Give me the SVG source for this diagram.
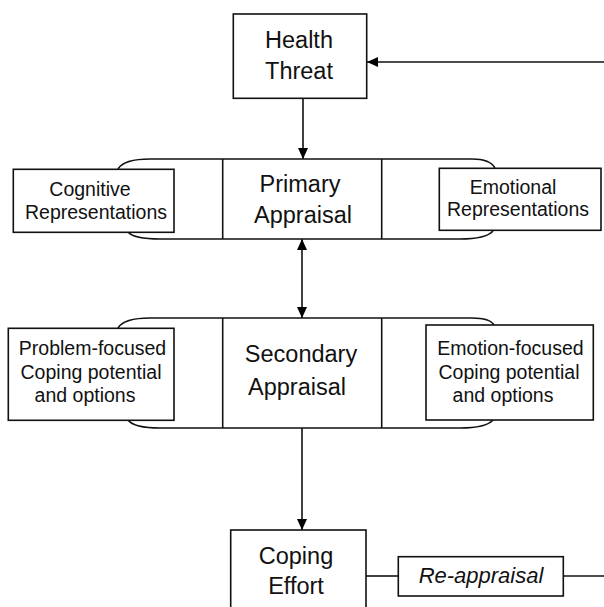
<svg xmlns="http://www.w3.org/2000/svg" width="604" height="607" viewBox="0 0 604 607">
  <defs>
    <marker id="arr" viewBox="0 0 11 10" refX="11" refY="5" markerWidth="11" markerHeight="10" markerUnits="userSpaceOnUse" orient="auto-start-reverse">
      <path d="M0,0 L11,5 L0,10 z" fill="#000"/>
    </marker>
    <style>
      .box{fill:#fff;stroke:#111;stroke-width:1.6}
      .ln{fill:none;stroke:#111;stroke-width:1.6}
      .t{font-family:"Liberation Sans",Arial,sans-serif;fill:#111;text-anchor:middle}
      .big{font-size:23.5px}
      .sm{font-size:19.5px}
      .it{font-style:italic;font-size:22px}
    </style>
  </defs>
  <rect width="604" height="607" fill="#fff"/>

  <g id="connectors">
    <line class="ln" x1="604" y1="62" x2="367" y2="62" marker-end="url(#arr)"/>
    <line class="ln" x1="303" y1="98" x2="303" y2="159" marker-end="url(#arr)"/>
    <line class="ln" x1="302" y1="239" x2="302" y2="318" marker-start="url(#arr)" marker-end="url(#arr)"/>
    <line class="ln" x1="302" y1="428" x2="302" y2="530" marker-end="url(#arr)"/>
    <line class="ln" x1="366" y1="576" x2="398" y2="576"/>
    <line class="ln" x1="563" y1="576" x2="604" y2="576"/>
  </g>

  <g id="health-threat">
    <rect class="box" x="233.3" y="14" width="133.4" height="84.3"/>
    <text class="t big" x="299" y="48">Health</text>
    <text class="t big" x="299" y="79">Threat</text>
  </g>

  <g id="primary-appraisal">
    <path class="ln" d="M118,169 Q124,159 150,159 H472 Q490,159 495,168"/>
    <path class="ln" d="M128,232 Q134,239 160,239 H460 Q486,239 493,231"/>
    <line class="ln" x1="222.7" y1="159" x2="222.7" y2="239"/>
    <line class="ln" x1="381.7" y1="159" x2="381.7" y2="239"/>
    <text class="t big" x="300" y="192">Primary</text>
    <text class="t big" x="303" y="223">Appraisal</text>
  </g>

  <g id="cognitive-representations">
    <rect class="box" x="13.3" y="169.3" width="160.7" height="63"/>
    <text class="t sm" x="90" y="195.5">Cognitive</text>
    <text class="t sm" x="96" y="218.5">Representations</text>
  </g>

  <g id="emotional-representations">
    <rect class="box" x="439.3" y="168.3" width="161.7" height="62"/>
    <text class="t sm" x="513" y="193.5">Emotional</text>
    <text class="t sm" x="518" y="215.5">Representations</text>
  </g>

  <g id="secondary-appraisal">
    <path class="ln" d="M118,328 Q124,318 150,318 H472 Q490,318 494,325"/>
    <path class="ln" d="M128,420 Q134,428 160,428 H460 Q486,428 493,420"/>
    <line class="ln" x1="222.7" y1="318" x2="222.7" y2="428"/>
    <line class="ln" x1="381.7" y1="318" x2="381.7" y2="428"/>
    <text class="t big" x="301" y="362">Secondary</text>
    <text class="t big" x="297" y="395">Appraisal</text>
  </g>

  <g id="problem-focused">
    <rect class="box" x="8.3" y="328.3" width="165.7" height="92"/>
    <text class="t sm" x="92.5" y="355">Problem-focused</text>
    <text class="t sm" x="91" y="378.5">Coping potential</text>
    <text class="t sm" x="85" y="402">and options</text>
  </g>

  <g id="emotion-focused">
    <rect class="box" x="426" y="325" width="167.3" height="95"/>
    <text class="t sm" x="510.5" y="355">Emotion-focused</text>
    <text class="t sm" x="509" y="378.5">Coping potential</text>
    <text class="t sm" x="503" y="402">and options</text>
  </g>

  <g id="coping-effort">
    <rect class="box" x="230.7" y="530" width="135.3" height="90"/>
    <text class="t big" x="296" y="563.5">Coping</text>
    <text class="t big" x="296" y="594">Effort</text>
  </g>

  <g id="re-appraisal">
    <rect class="box" x="398.3" y="556.7" width="165" height="39.3"/>
    <text class="t it" x="481" y="582.5">Re-appraisal</text>
  </g>
</svg>
